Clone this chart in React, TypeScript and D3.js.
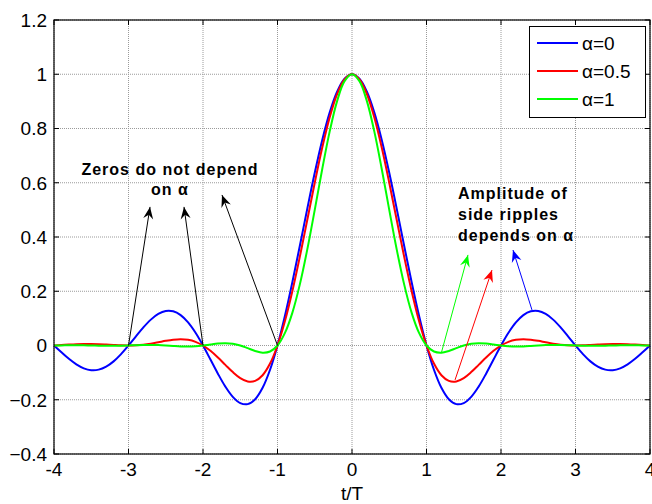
import React from 'react';
import * as d3 from 'd3';

const tValues: number[] = [
  -4, -3.9, -3.8, -3.7, -3.6, -3.5, -3.4, -3.3, -3.2, -3.1,
  -3, -2.9, -2.8, -2.7, -2.6, -2.5, -2.4, -2.3, -2.2, -2.1,
  -2, -1.9, -1.8, -1.7, -1.6, -1.5, -1.4, -1.3, -1.2, -1.1,
  -1, -0.9, -0.8, -0.7, -0.6, -0.5, -0.4, -0.3, -0.2, -0.1,
  0, 0.1, 0.2, 0.3, 0.4, 0.5, 0.6, 0.7, 0.8, 0.9,
  1, 1.1, 1.2, 1.3, 1.4, 1.5, 1.6, 1.7, 1.8, 1.9,
  2, 2.1, 2.2, 2.3, 2.4, 2.5, 2.6, 2.7, 2.8, 2.9,
  3, 3.1, 3.2, 3.3, 3.4, 3.5, 3.6, 3.7, 3.8, 3.9, 4,
];

const alpha0: number[] = [
  0, -0.0252, -0.0492, -0.0696, -0.0841, -0.0909, -0.0890, -0.0780, -0.0585, -0.0317,
  0, 0.0339, 0.0668, 0.0954, 0.1164, 0.1273, 0.1261, 0.1120, 0.0850, 0.0468,
  0, -0.0518, -0.1039, -0.1515, -0.1892, -0.2122, -0.2162, -0.1981, -0.1559, -0.0894,
  0, 0.1093, 0.2339, 0.3679, 0.5046, 0.6366, 0.7568, 0.8584, 0.9355, 0.9836,
  1, 0.9836, 0.9355, 0.8584, 0.7568, 0.6366, 0.5046, 0.3679, 0.2339, 0.1093,
  0, -0.0894, -0.1559, -0.1981, -0.2162, -0.2122, -0.1892, -0.1515, -0.1039, -0.0518,
  0, 0.0468, 0.0850, 0.1120, 0.1261, 0.1273, 0.1164, 0.0954, 0.0668, 0.0339,
  0, -0.0317, -0.0585, -0.0780, -0.0890, -0.0909, -0.0841, -0.0696, -0.0492, -0.0252, 0,
];

const alpha05: number[] = [
  0, 0.0018, 0.0035, 0.0049, 0.0057, 0.0057, 0.0050, 0.0036, 0.0020, 0.0006,
  0, 0.0007, 0.0030, 0.0069, 0.0119, 0.0172, 0.0214, 0.0233, 0.0211, 0.0136,
  0, -0.0196, -0.0441, -0.0714, -0.0981, -0.1200, -0.1324, -0.1303, -0.1095, -0.0666,
  0, 0.0900, 0.2008, 0.3275, 0.4634, 0.6002, 0.7289, 0.8405, 0.9268, 0.9813,
  1, 0.9813, 0.9268, 0.8405, 0.7289, 0.6002, 0.4634, 0.3275, 0.2008, 0.0900,
  0, -0.0666, -0.1095, -0.1303, -0.1324, -0.1200, -0.0981, -0.0714, -0.0441, -0.0196,
  0, 0.0136, 0.0211, 0.0233, 0.0214, 0.0172, 0.0119, 0.0069, 0.0030, 0.0007,
  0, 0.0006, 0.0020, 0.0036, 0.0050, 0.0057, 0.0057, 0.0049, 0.0035, 0.0018, 0,
];

const alpha1: number[] = [
  0, 0.0004, 0.0007, 0.0008, 0.0005, 0, -0.0006, -0.0011, -0.0012, -0.0008,
  0, 0.0010, 0.0018, 0.0020, 0.0014, 0, -0.0018, -0.0033, -0.0038, -0.0027,
  0, 0.0037, 0.0070, 0.0084, 0.0063, 0, -0.0098, -0.0202, -0.0265, -0.0222,
  0, 0.0464, 0.1213, 0.2253, 0.3544, 0.5000, 0.6497, 0.7884, 0.9010, 0.9745,
  1, 0.9745, 0.9010, 0.7884, 0.6497, 0.5000, 0.3544, 0.2253, 0.1213, 0.0464,
  0, -0.0222, -0.0265, -0.0202, -0.0098, 0, 0.0063, 0.0084, 0.0070, 0.0037,
  0, -0.0027, -0.0038, -0.0033, -0.0018, 0, 0.0014, 0.0020, 0.0018, 0.0010,
  0, -0.0008, -0.0012, -0.0011, -0.0006, 0, 0.0005, 0.0008, 0.0007, 0.0004, 0,
];

const seriesNames: string[] = ['α=0', 'α=0.5', 'α=1'];
const seriesColors: string[] = ['#0000ff', '#ff0000', '#00ff00'];
const xTicks: number[] = [-4, -3, -2, -1, 0, 1, 2, 3, 4];
const yTicks: number[] = [-0.4, -0.2, 0, 0.2, 0.4, 0.6, 0.8, 1, 1.2];

const leftNote: string[] = ['Zeros do not depend', 'on α'];
const rightNote: string[] = ['Amplitude of', 'side ripples', 'depends on α'];

// annotation arrows: [x0, y0, x1, y1] in data units, colour
const leftArrows: [number, number, number, number][] = [
  [-3, 0, -2.711, 0.511],
  [-2, 0, -2.255, 0.511],
  [-1, 0, -1.745, 0.555],
];
const rightArrows: [number, number, number, number, string][] = [
  [1.2, -0.0265, 1.557, 0.334, '#00ff00'],
  [1.383, -0.127, 1.879, 0.278, '#ff0000'],
  [2.416, 0.131, 2.161, 0.352, '#0000ff'],
];

const W = 652;
const H = 504;
const left = 54;
const right = 650;
const top = 20;
const bottom = 454;
const FONT = '"Liberation Sans", Arial, sans-serif';

function arrowHead(x0: number, y0: number, x1: number, y1: number): string {
  const dx = x1 - x0;
  const dy = y1 - y0;
  const len = Math.sqrt(dx * dx + dy * dy);
  const ux = dx / len;
  const uy = dy / len;
  const px = -uy;
  const py = ux;
  const L = 12;
  const hw = 5;
  const notch = 8;
  const bx = x1 - ux * L;
  const by = y1 - uy * L;
  const nx = x1 - ux * notch;
  const ny = y1 - uy * notch;
  return `M${x1},${y1}L${bx + px * hw},${by + py * hw}L${nx},${ny}L${bx - px * hw},${by - py * hw}Z`;
}

export default function App() {
  const x = d3.scaleLinear().domain([-4, 4]).range([left, right]);
  const y = d3.scaleLinear().domain([-0.4, 1.2]).range([bottom, top]);
  const line = d3
    .line<number>()
    .x((_, i) => x(tValues[i]))
    .y((d) => y(d))
    .curve(d3.curveCatmullRom.alpha(0.5));
  const series = [alpha0, alpha05, alpha1];

  return (
    <svg
      width={W}
      height={H}
      style={{ position: 'absolute', left: 0, top: 0, background: '#fff' }}
      fontFamily={FONT}
    >
      <rect x={0} y={0} width={W} height={H} fill="#fff" />
      {/* grid */}
      {xTicks.map((t) => (
        <line
          key={'gx' + t}
          x1={x(t)}
          x2={x(t)}
          y1={top}
          y2={bottom}
          stroke="#9a9a9a"
          strokeWidth={1}
          strokeDasharray="1 1"
        />
      ))}
      {yTicks.map((t) => (
        <line
          key={'gy' + t}
          x1={left}
          x2={right}
          y1={y(t)}
          y2={y(t)}
          stroke="#9a9a9a"
          strokeWidth={1}
          strokeDasharray="1 1"
        />
      ))}
      {/* ticks */}
      {xTicks.map((t) => (
        <g key={'tx' + t}>
          <line x1={x(t)} x2={x(t)} y1={bottom} y2={bottom - 5} stroke="#000" />
          <line x1={x(t)} x2={x(t)} y1={top} y2={top + 5} stroke="#000" />
          <text x={x(t)} y={bottom + 22} fontSize={19} textAnchor="middle" fill="#000">
            {t}
          </text>
        </g>
      ))}
      {yTicks.map((t) => (
        <g key={'ty' + t}>
          <line x1={left} x2={left + 5} y1={y(t)} y2={y(t)} stroke="#000" />
          <line x1={right} x2={right - 5} y1={y(t)} y2={y(t)} stroke="#000" />
          <text x={left - 7} y={y(t)} dy="0.36em" fontSize={19} textAnchor="end" fill="#000">
            {d3.format('~g')(+t.toFixed(1))}
          </text>
        </g>
      ))}
      {/* curves */}
      {series.map((s, i) => (
        <path key={'s' + i} d={line(s) || ''} fill="none" stroke={seriesColors[i]} strokeWidth={2} />
      ))}
      {/* frame */}
      <rect x={left} y={top} width={right - left} height={bottom - top} fill="none" stroke="#000" strokeWidth={1.2} />
      {/* x label */}
      <text x={x(0)} y={500} fontSize={19} textAnchor="middle" fill="#000">
        t/T
      </text>
      {/* left annotation */}
      {leftNote.map((s, i) => (
        <text
          key={'lt' + i}
          x={x(-2.443)}
          y={y([0.629, 0.555][i])}
          fontSize={16}
          fontWeight="bold"
          letterSpacing={1}
          textAnchor="middle"
          fill="#000"
        >
          {s}
        </text>
      ))}
      {leftArrows.map((a, i) => {
        const x0 = x(a[0]);
        const y0 = y(a[1]);
        const x1 = x(a[2]);
        const y1 = y(a[3]);
        return (
          <g key={'la' + i}>
            <line x1={x0} y1={y0} x2={x1} y2={y1} stroke="#000" strokeWidth={1} />
            <path d={arrowHead(x0, y0, x1, y1)} fill="#000" />
          </g>
        );
      })}
      {/* right annotation */}
      {rightNote.map((s, i) => (
        <text
          key={'rt' + i}
          x={x(1.423)}
          y={y([0.54, 0.463, 0.385][i])}
          fontSize={16}
          fontWeight="bold"
          letterSpacing={1}
          fill="#000"
        >
          {s}
        </text>
      ))}
      {rightArrows.map((a, i) => {
        const x0 = x(a[0]);
        const y0 = y(a[1]);
        const x1 = x(a[2]);
        const y1 = y(a[3]);
        return (
          <g key={'ra' + i}>
            <line x1={x0} y1={y0} x2={x1} y2={y1} stroke={a[4]} strokeWidth={1} />
            <path d={arrowHead(x0, y0, x1, y1)} fill={a[4]} />
          </g>
        );
      })}
      {/* legend */}
      <rect x={529.5} y={26.5} width={116} height={91} fill="#fff" stroke="#000" strokeWidth={1} />
      {seriesNames.map((n, i) => (
        <g key={'lg' + i}>
          <line x1={537} x2={578} y1={43 + i * 28} y2={43 + i * 28} stroke={seriesColors[i]} strokeWidth={2} />
          <text x={582} y={43 + i * 28} dy="0.36em" fontSize={19} fill="#000">
            {n}
          </text>
        </g>
      ))}
    </svg>
  );
}
